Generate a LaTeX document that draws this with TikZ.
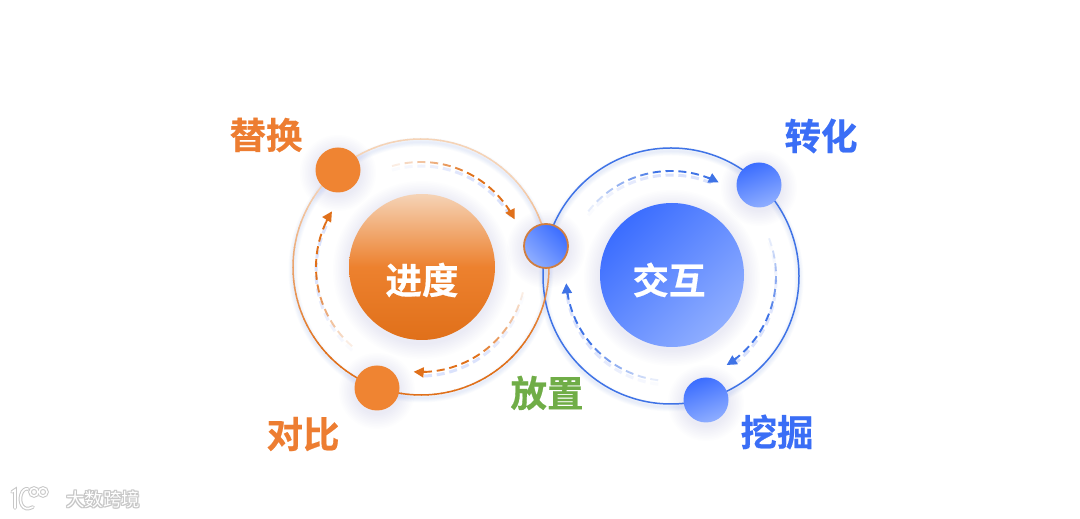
\documentclass[tikz,border=0pt]{standalone}
\usepackage{fontspec}
\newfontfamily\cjk{Noto Sans CJK SC}[BoldFont={Noto Sans CJK SC Bold},BoldFeatures={FakeBold=0.5}]
\newfontfamily\cjkplain{Noto Sans CJK SC}
\usetikzlibrary{arrows.meta}
\definecolor{orangeT}{HTML}{ED7D31}
\definecolor{blueT}{HTML}{3A6EF6}
\definecolor{greenT}{HTML}{70AD47}
\definecolor{glowB}{HTML}{6F8CF5}
\definecolor{ringB}{HTML}{3F73E6}
\definecolor{orangeD}{HTML}{E0701A}
\definecolor{orangeL}{HTML}{F5D3B6}
\definecolor{orangeM}{HTML}{EF8432}
\definecolor{blueA}{HTML}{3B6DFF}
\definecolor{blueB}{HTML}{8FAEFF}
\tikzset{
  lbl/.style={font=\cjk\bfseries\fontsize{36.5}{40}\selectfont,inner sep=0pt},
  corelbl/.style={font=\cjk\bfseries\fontsize{36.5}{40}\selectfont,text=white,inner sep=0pt},
  orangedot/.style={circle,inner sep=0pt,minimum size=45pt,fill=orangeM},
  bluedot/.style={circle,inner sep=0pt,minimum size=45pt,shade,shading=axis,left color=blueA,right color=blueB,shading angle=20},
}
\newcommand{\softglow}[2]{%
  \foreach \i in {1,...,10}{\fill[glowB,opacity=.012] ([yshift=-3pt]#1) circle ({#2+\i*1.6pt});}}
\newcommand{\ringglow}[1]{%
  \foreach \i in {1,...,6}{\draw[glowB,opacity=.025,line width=\i*1.5pt] ([yshift=-3pt]#1) circle (128pt);}}
% dashed fading arc, clockwise from #2 to #3, about #1
\newcommand{\dasharc}[4]{%
  \pgfmathsetmacro{\span}{#2-(#3)}%
  \pgfmathtruncatemacro{\nd}{floor((\span-6)/7)}%
  \foreach \k in {0,...,\nd}{%
    \pgfmathsetmacro{\aa}{#2-\k*7}%
    \pgfmathsetmacro{\bb}{\aa-4.4}%
    \pgfmathsetmacro{\op}{min(1,0.12+1.6*\k/(\nd+1))}%
    \draw[glowB,opacity=\op*.25,line width=3pt] ([shift={(\aa:105pt)},yshift=-4pt]#1) arc[start angle=\aa,end angle=\bb,radius=105pt];
    \draw[#4,opacity=\op,line width=1.9pt] ([shift={(\aa:105pt)}]#1) arc[start angle=\aa,end angle=\bb,radius=105pt];
  }%
  \pgfmathsetmacro{\cc}{#3+6.5}%
  \draw[#4,line width=1.9pt,-{Triangle[length=10pt,width=10pt]}] ([shift={(\cc:105pt)}]#1) arc[start angle=\cc,end angle=#3,radius=105pt];
}
\begin{document}
\begin{tikzpicture}[x=1pt,y=1pt]
\path[use as bounding box,fill=white] (0,0) rectangle (1080,519);
\coordinate (cL) at (421,252);
\coordinate (cR) at (671,243);
\coordinate (pCoreL) at (422,252);
\coordinate (pCoreR) at (672,244);
\coordinate (pReplace) at (338,349);
\coordinate (pCompare) at (377,131);
\coordinate (pMid) at (546,273);
\coordinate (pConvert) at (759,334);
\coordinate (pMine) at (706,119);
% shadows
\ringglow{cL}\ringglow{cR}
\softglow{pCoreL}{73pt}\softglow{pCoreR}{72pt}
\softglow{pReplace}{22pt}\softglow{pCompare}{22pt}\softglow{pMid}{23pt}\softglow{pConvert}{22pt}\softglow{pMine}{22pt}
% blue ring
\draw[ringB,line width=1.5pt] (cR) circle (128pt);
% orange ring, coloured by height
\foreach \a in {0,3,...,357}{%
  \pgfmathsetmacro{\mixv}{min(100,max(0,50-75*sin(\a)))}%
  \pgfmathsetmacro{\bv}{\a+3.4}%
  \draw[orangeD!\mixv!orangeL,line width=1.5pt] ([shift={(\a:128pt)}]cL) arc[start angle=\a,end angle=\bv,radius=128pt];
}
% dashed arcs
\dasharc{cL}{106}{27}{orangeD}
\dasharc{cL}{-14}{-94}{orangeD}
\dasharc{cL}{229}{148}{orangeD}
\dasharc{cR}{142}{63}{ringB}
\dasharc{cR}{21}{-58}{ringB}
\dasharc{cR}{263}{184}{ringB}
% core circles
\node[circle,inner sep=0pt,minimum size=146pt,top color=orangeL,bottom color=orangeD,middle color=orangeM!85!orangeD] (coreL) at (pCoreL) {};
\node[corelbl] at ([xshift=0pt,yshift=-13pt]coreL.center) {进度};
\node[circle,inner sep=0pt,minimum size=144pt,shade,shading=axis,left color=blueA,right color=blueB,shading angle=45] (coreR) at (pCoreR) {};
\node[corelbl] at ([xshift=-3pt,yshift=-5pt]coreR.center) {交互};
% small dots
\node[orangedot] (dReplace) at (pReplace) {};
\node[orangedot] (dCompare) at (pCompare) {};
\node[circle,inner sep=0pt,minimum size=44pt,draw=orangeM!85!black!90,line width=1.8pt,shade,shading=axis,left color=blueA,right color=blueB,shading angle=-45] (dMid) at (pMid) {};
\node[bluedot] (dConvert) at (pConvert) {};
\node[bluedot] (dMine) at (pMine) {};
% labels
\node[lbl,text=orangeT] (tReplace) at (266,384) {替换};
\node[lbl,text=orangeT] (tCompare) at (303,85) {对比};
\node[lbl,text=blueT] (tConvert) at (821,383) {转化};
\node[lbl,text=blueT] (tMine) at (777,87) {挖掘};
\node[lbl,text=greenT] (tPlace) at (547,126) {放置};
% watermark
\foreach \dx/\dy in {-1/0,1/0,0/1,0/-1,-1/-1,1/1,-1/1,1/-1}{%
  \node[font=\cjkplain\fontsize{18.5}{20}\selectfont,text=black!22,inner sep=0pt] at (103+\dx,20+\dy) {大数跨境};}
\node[font=\cjkplain\fontsize{18.5}{20}\selectfont,text=white,inner sep=0pt] (wm) at (103,20) {大数跨境};
\foreach \wc/\wl in {black!22/3.6pt,white/1.6pt}{%
  \draw[\wc,line width=\wl,line cap=round] (12,27) -- (15,29) -- (15,11);
  \draw[\wc,line width=\wl,line cap=round] (33,12) .. controls (22,6) and (19,18) .. (21,24) .. controls (22,29) and (26,31) .. (28,30);
  \draw[\wc,line width=\wl] (34,27) circle (4pt);
  \draw[\wc,line width=\wl] (43,27) circle (4pt);
}
\end{tikzpicture}
\end{document}
